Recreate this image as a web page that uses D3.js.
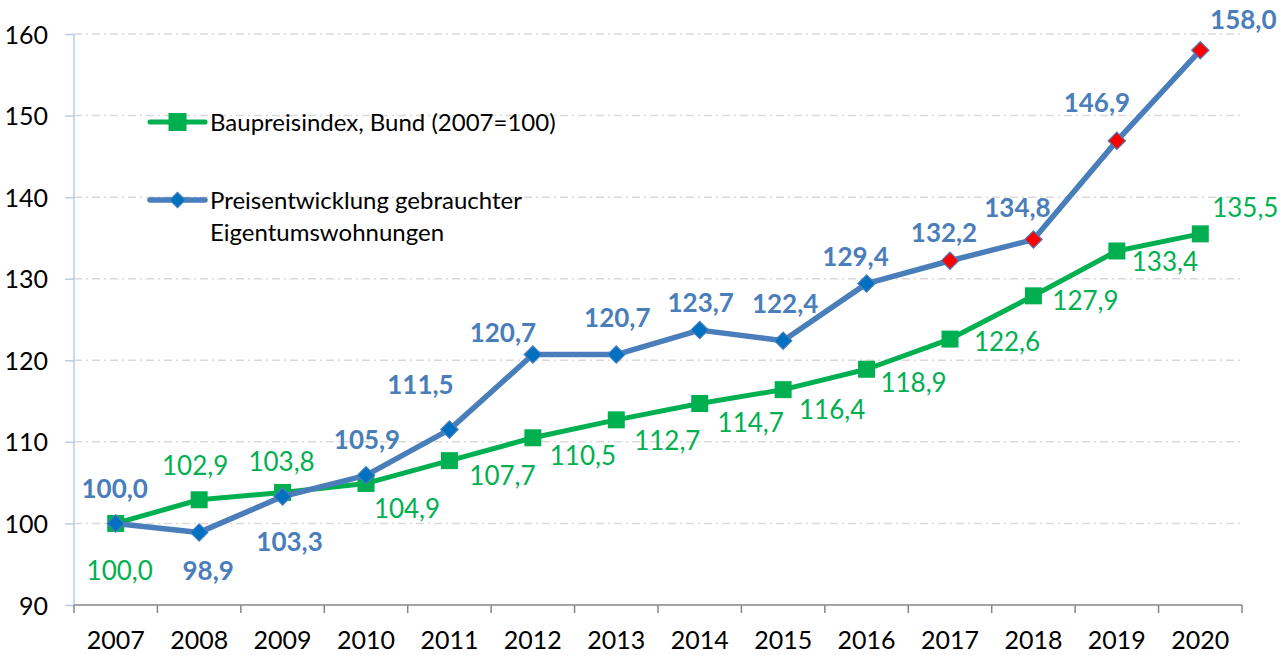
<!DOCTYPE html>
<html lang="de">
<head>
<meta charset="utf-8">
<title>Baupreisindex und Preisentwicklung gebrauchter Eigentumswohnungen</title>
<script src="https://cdn.jsdelivr.net/npm/d3@7"></script>
<style>
  html, body { margin: 0; padding: 0; background: #ffffff; }
  svg { display: block; font-family: Lato, "Open Sans", sans-serif; }
</style>
</head>
<body>
<svg id="chart" width="1288" height="655"></svg>
<script>
// Jahre (Kategorien)
const years = ["2007", "2008", "2009", "2010", "2011", "2012", "2013",
               "2014", "2015", "2016", "2017", "2018", "2019", "2020"];

// Baupreisindex, Bund (2007 = 100)
const baupreis = [100.0, 102.9, 103.8, 104.9, 107.7, 110.5, 112.7,
                  114.7, 116.4, 118.9, 122.6, 127.9, 133.4, 135.5];

// Preisentwicklung gebrauchter Eigentumswohnungen (2007 = 100)
const wohnungen = [100.0, 98.9, 103.3, 105.9, 111.5, 120.7, 120.7,
                   123.7, 122.4, 129.4, 132.2, 134.8, 146.9, 158.0];

// Jahre, deren Wohnungs-Marker rot hervorgehoben werden
const markedYears = ["2017", "2018", "2019", "2020"];

// Teilstriche der Werteachse
const yTicks = [90, 100, 110, 120, 130, 140, 150, 160];

// Legendentexte
const legendBau = ["Baupreisindex, Bund (2007=100)"];
const legendWohn = ["Preisentwicklung gebrauchter", "Eigentumswohnungen"];

// Platzierung der Datenbeschriftungen (Versatz zum Punkt, in Pixeln)
const wohnLabelShift = [[-1, -35], [9, 38], [7, 45], [1, -36], [-29, -45], [-30, -22], [1, -37],
                        [1, -27], [2, -37], [-11, -27], [-6, -28], [-16, -32], [-20, -38], [43, -31]];
const bauLabelShift = [[4, 47], [-4, -34], [-1, -31], [41, 25], [53, 15], [50, 18], [51, 21],
                       [51, 19], [49, 20], [47, 13], [57, 3], [52, 5], [48, 11], [45, -26]];

const colors = {
  green: "#00B050",
  blueLine: "#4A7EBB",
  blueText: "#4A7EBB",
  blueMarker: "#0070C0",
  red: "#FF0000",
  grid: "#D9D9D9",
  yAxis: "#B9CDE5",
  xAxis: "#868686"
};

const svg = d3.select("#chart");
const plot = { left: 74, right: 1242, top: 34, bottom: 605 };

const x = d3.scalePoint().domain(years).range([plot.left, plot.right]).padding(0.5);
const xBand = d3.scaleBand().domain(years).range([plot.left, plot.right]);
const y = d3.scaleLinear().domain([90, 160]).range([plot.bottom, plot.top]);

const de = d3.formatLocale({ decimal: ",", thousands: ".", grouping: [3], currency: ["", " €"] });
const fmt = de.format(".1f");

// Gitternetzlinien (Strich-Punkt)
svg.append("g")
  .selectAll("line")
  .data(yTicks.filter(t => t > 90))
  .join("line")
  .attr("x1", plot.left).attr("x2", plot.right)
  .attr("y1", d => y(d)).attr("y2", d => y(d))
  .attr("stroke", colors.grid)
  .attr("stroke-width", 1.5)
  .attr("stroke-dasharray", "8,4,2,4");

// Werteachse
const yAxis = svg.append("g")
  .attr("transform", `translate(${plot.left},0)`)
  .call(d3.axisLeft(y).tickValues(yTicks).tickSize(9).tickPadding(17).tickFormat(d3.format("d")));
yAxis.select(".domain").attr("stroke", colors.yAxis).attr("stroke-width", 1.5)
  .attr("d", `M0,${plot.top}V${plot.bottom}`);
yAxis.selectAll(".tick line").attr("stroke", colors.yAxis).attr("stroke-width", 1.5);
yAxis.selectAll(".tick text")
  .attr("fill", "#000").attr("font-size", 25).attr("font-family", "Lato, sans-serif")
  .attr("dy", "0.36em");

// Kategorieachse
const xAxis = svg.append("g")
  .attr("transform", `translate(0,${plot.bottom})`);
xAxis.append("line")
  .attr("x1", plot.left).attr("x2", plot.right)
  .attr("stroke", colors.xAxis).attr("stroke-width", 1.5);
const bounds = years.map(d => xBand(d)).concat([xBand(years[years.length - 1]) + xBand.bandwidth()]);
xAxis.selectAll("line.tick")
  .data(bounds)
  .join("line")
  .attr("class", "tick")
  .attr("x1", d => d).attr("x2", d => d)
  .attr("y1", 0).attr("y2", 8)
  .attr("stroke", colors.xAxis).attr("stroke-width", 1.5);
xAxis.selectAll("text")
  .data(years)
  .join("text")
  .attr("x", d => x(d))
  .attr("y", 35)
  .attr("dy", "0.36em")
  .attr("text-anchor", "middle")
  .attr("font-size", 25)
  .attr("fill", "#000")
  .text(d => d);

const line = d3.line();

// Reihe: Baupreisindex
const bauPts = years.map((yr, i) => [x(yr), y(baupreis[i])]);
svg.append("path")
  .attr("d", line(bauPts))
  .attr("fill", "none")
  .attr("stroke", colors.green)
  .attr("stroke-width", 5)
  .attr("stroke-linejoin", "round");
svg.append("g")
  .selectAll("rect")
  .data(years)
  .join("rect")
  .attr("x", (d, i) => x(d) - 8.5)
  .attr("y", (d, i) => y(baupreis[i]) - 8.5)
  .attr("width", 17).attr("height", 17)
  .attr("fill", colors.green);

// Reihe: Eigentumswohnungen
const wohnPts = years.map((yr, i) => [x(yr), y(wohnungen[i])]);
svg.append("path")
  .attr("d", line(wohnPts))
  .attr("fill", "none")
  .attr("stroke", colors.blueLine)
  .attr("stroke-width", 5.5)
  .attr("stroke-linejoin", "round");
const diamond = d3.symbol().type(d3.symbolSquare).size(150);
svg.append("g")
  .selectAll("path")
  .data(years)
  .join("path")
  .attr("d", diamond)
  .attr("transform", (d, i) => `translate(${x(d)},${y(wohnungen[i])}) rotate(45)`)
  .attr("fill", d => markedYears.includes(d) ? colors.red : colors.blueMarker)
  .attr("stroke", colors.blueLine)
  .attr("stroke-width", 1.2);

// Datenbeschriftungen
svg.append("g")
  .selectAll("text")
  .data(years)
  .join("text")
  .attr("x", (d, i) => x(d) + bauLabelShift[i][0])
  .attr("y", (d, i) => y(baupreis[i]) + bauLabelShift[i][1])
  .attr("dy", "0.36em")
  .attr("text-anchor", "middle")
  .attr("font-size", 26)
  .attr("fill", colors.green)
  .text((d, i) => fmt(baupreis[i]));

svg.append("g")
  .selectAll("text")
  .data(years)
  .join("text")
  .attr("x", (d, i) => x(d) + wohnLabelShift[i][0])
  .attr("y", (d, i) => y(wohnungen[i]) + wohnLabelShift[i][1])
  .attr("dy", "0.36em")
  .attr("text-anchor", "middle")
  .attr("font-size", 26)
  .attr("font-weight", 700)
  .attr("fill", colors.blueText)
  .text((d, i) => fmt(wohnungen[i]));

// Legende
const legend = svg.append("g");
const lg1 = legend.append("g").attr("transform", "translate(150,122)");
lg1.append("line").attr("x1", 0).attr("x2", 55)
  .attr("stroke", colors.green).attr("stroke-width", 5).attr("stroke-linecap", "round");
lg1.append("rect").attr("x", 27.5 - 9).attr("y", -9).attr("width", 18).attr("height", 18)
  .attr("fill", colors.green);
lg1.append("text").attr("x", 60).attr("dy", "0.36em")
  .attr("font-size", 24).attr("fill", "#000")
  .text(legendBau[0]);

const lg2 = legend.append("g").attr("transform", "translate(150,200)");
lg2.append("line").attr("x1", 0).attr("x2", 55)
  .attr("stroke", colors.blueLine).attr("stroke-width", 5.5).attr("stroke-linecap", "round");
lg2.append("path").attr("d", d3.symbol().type(d3.symbolSquare).size(120))
  .attr("transform", "translate(27.5,0) rotate(45)")
  .attr("fill", colors.blueMarker).attr("stroke", colors.blueLine).attr("stroke-width", 1.2);
lg2.selectAll("text")
  .data(legendWohn)
  .join("text")
  .attr("x", 60)
  .attr("y", (d, i) => i * 32)
  .attr("dy", "0.36em")
  .attr("font-size", 24)
  .attr("fill", "#000")
  .text(d => d);
</script>
</body>
</html>
